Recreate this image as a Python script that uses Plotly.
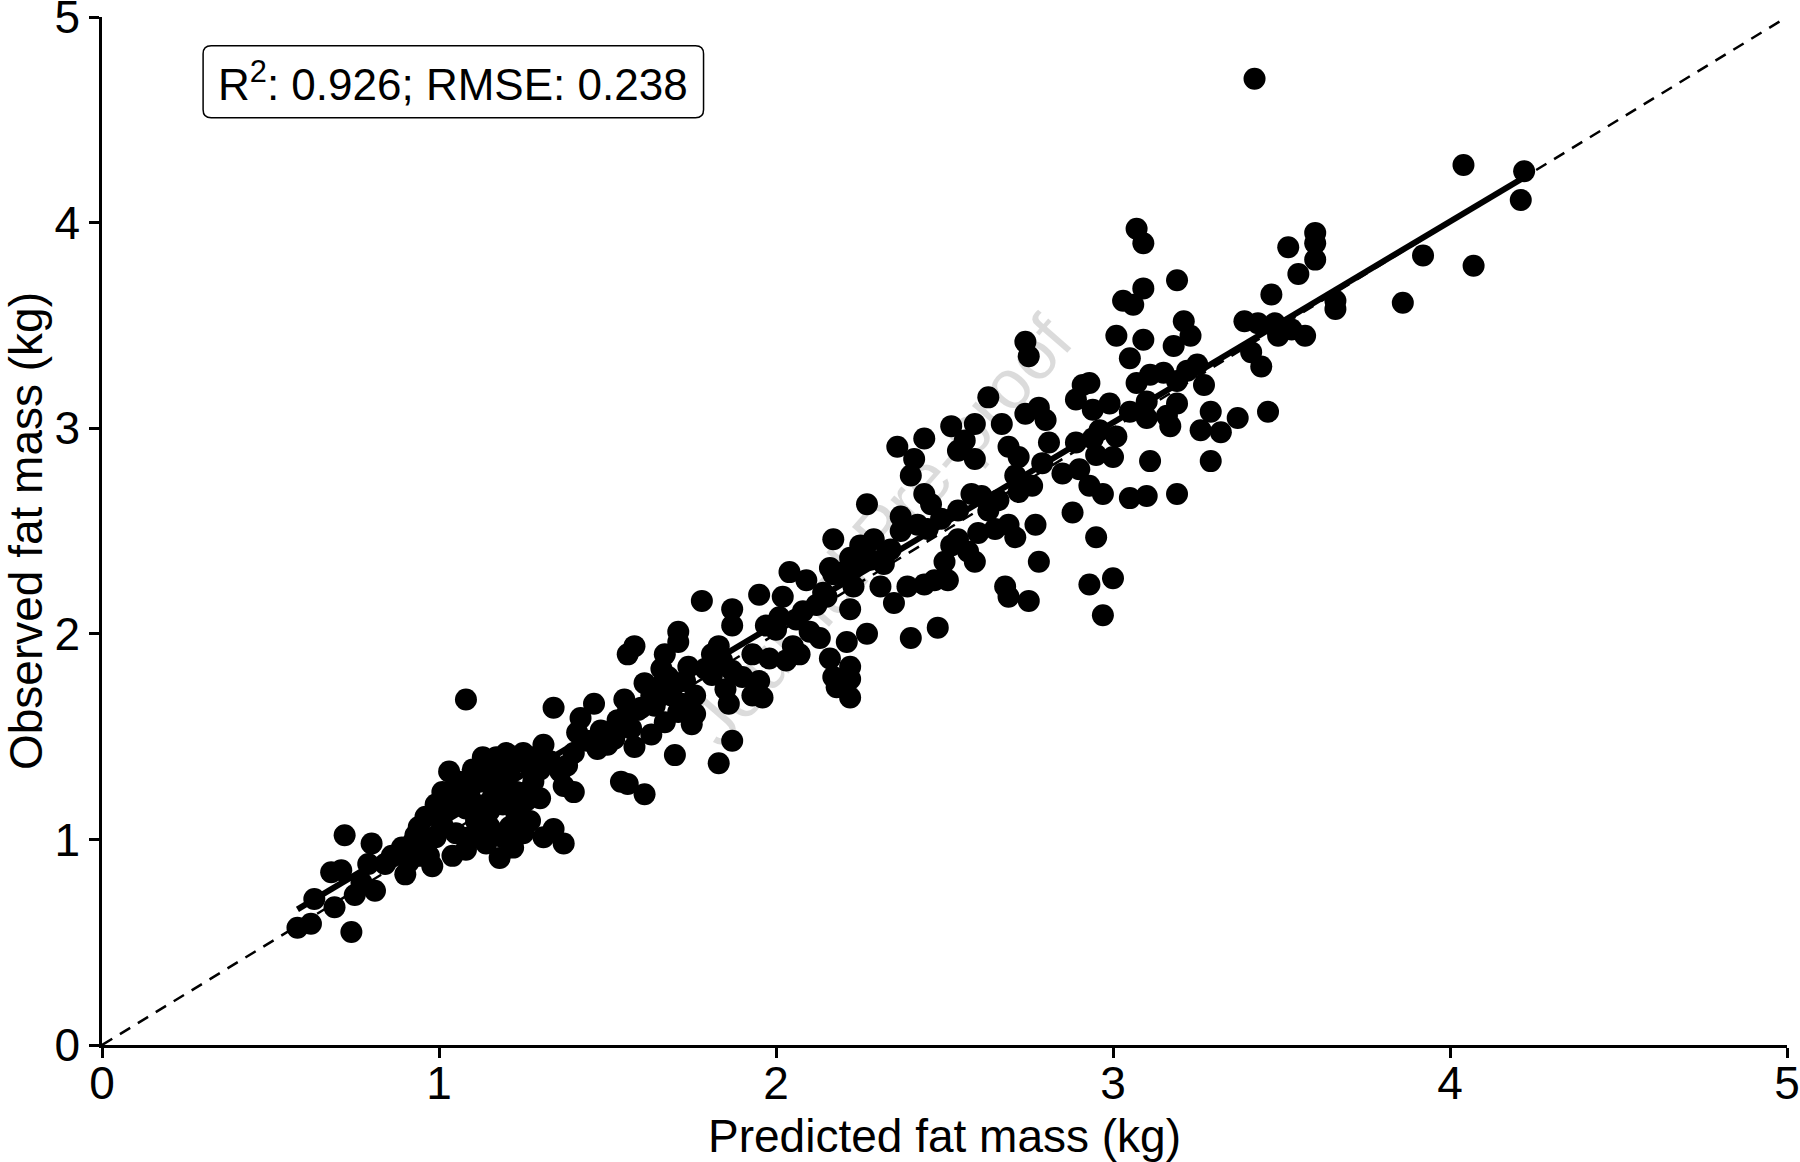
import plotly.graph_objects as go

# predicted vs observed fat mass (kg)
predicted = [
    3.42, 4.04, 4.22, 4.21, 4.07, 3.92, 3.86, 3.66, 3.66, 3.60,
    3.60, 3.52, 3.55, 3.60, 3.47, 3.39, 3.43, 3.48, 3.49, 3.53,
    3.57, 3.41, 3.44, 3.46, 3.37, 3.32, 3.29, 3.26, 3.29, 3.27,
    3.07, 3.09, 3.19, 3.09, 3.03, 3.06, 3.01, 3.09, 3.21, 3.23,
    3.18, 3.25, 3.22, 3.15, 3.05, 3.07, 3.11, 3.19, 3.10, 3.19,
    3.16, 3.17, 3.05, 3.10, 2.99, 2.93, 2.91, 2.89, 2.94, 2.96,
    3.01, 3.00, 2.95, 2.94, 2.89, 3.11, 3.19, 3.10, 3.05, 2.97,
    2.93, 2.88, 2.95, 2.93, 3.00, 2.97, 2.90, 2.85, 2.79, 2.81,
    2.80, 2.74, 2.78, 2.75, 2.74, 2.67, 2.69, 2.72, 2.71, 2.72,
    2.66, 2.76, 2.77, 2.78, 2.71, 2.69, 2.68, 2.69, 2.75, 2.63,
    2.59, 2.56, 2.52, 2.54, 2.59, 2.58, 2.61, 2.63, 2.65, 2.60,
    2.57, 2.59, 2.54, 2.52, 2.50, 2.47, 2.51, 2.48, 2.44, 2.46,
    2.49, 2.54, 2.44, 2.42, 2.40, 2.41, 2.44, 2.36, 2.37, 2.40,
    2.39, 2.35, 2.37, 2.33, 2.32, 2.31, 2.29, 2.27, 2.25, 2.22,
    2.23, 2.23, 2.27, 2.22, 2.17, 2.20, 2.17, 2.16, 2.15, 2.21,
    2.22, 2.22, 2.22, 2.18, 2.16, 2.17, 2.13, 2.10, 2.12, 2.09,
    2.04, 2.02, 2.06, 2.01, 1.95, 1.97, 2.05, 2.03, 2.07, 1.98,
    1.93, 1.95, 1.96, 1.90, 1.93, 1.87, 1.87, 1.83, 1.84, 1.81,
    1.87, 1.81, 1.85, 1.86, 1.87, 1.83, 1.78, 1.74, 1.76, 1.76,
    1.72, 1.71, 1.71, 1.67, 1.66, 1.68, 1.66, 1.69, 1.71, 1.75,
    1.70, 1.67, 1.64, 1.61, 1.63, 1.58, 1.56, 1.60, 1.55, 1.56,
    1.57, 1.63, 1.58, 1.61, 1.54, 1.56, 1.52, 1.50, 1.47, 1.46,
    1.42, 1.41, 1.44, 1.40, 1.38, 1.36, 1.33, 1.31, 1.34, 1.31,
    1.40, 1.37, 1.37, 1.34, 1.31, 1.30, 1.28, 1.30, 1.26, 1.25,
    1.26, 1.27, 1.22, 1.23, 1.20, 1.21, 1.17, 1.19, 1.18, 1.15,
    1.13, 1.12, 1.14, 1.11, 1.08, 1.09, 1.08, 1.06, 1.05, 1.03,
    1.01, 1.03, 1.04, 1.08, 1.01, 0.99, 0.97, 0.96, 0.94, 0.98,
    0.92, 0.91, 0.89, 0.90, 0.86, 0.84, 0.80, 0.79, 0.81, 0.77,
    0.72, 0.71, 0.68, 0.69, 0.74, 0.63, 0.62, 0.58, 0.75, 1.20,
    1.22, 1.10, 1.14, 1.17, 1.23, 1.06, 1.11, 1.15, 0.99, 0.96,
    0.94, 1.03, 1.21, 1.25, 1.28, 1.14, 1.09, 1.19, 1.00, 1.04,
    1.12, 1.16, 1.24, 1.18, 1.07, 1.13, 1.26, 0.93, 1.48, 1.53,
    1.59, 1.65, 1.73, 1.79, 2.00, 2.08, 2.14, 2.28, 2.34, 2.45,
]
observed = [
    4.70, 4.28, 4.25, 4.11, 3.79, 3.84, 3.61, 3.62, 3.58, 3.95,
    3.90, 3.88, 3.75, 3.82, 3.65, 3.52, 3.51, 3.51, 3.45, 3.48,
    3.45, 3.37, 3.30, 3.08, 3.05, 2.98, 2.84, 2.99, 3.08, 3.21,
    3.97, 3.90, 3.72, 3.68, 3.62, 3.60, 3.45, 3.43, 3.52, 3.45,
    3.40, 3.31, 3.28, 3.27, 3.34, 3.22, 3.26, 3.23, 3.13, 3.12,
    3.06, 3.01, 3.08, 3.05, 3.12, 3.22, 3.21, 3.14, 3.09, 2.99,
    2.96, 2.86, 2.87, 2.95, 2.93, 2.84, 2.68, 2.67, 2.66, 2.68,
    2.72, 2.59, 2.47, 2.24, 2.27, 2.09, 2.80, 2.78, 2.83, 2.93,
    3.04, 3.07, 3.10, 3.35, 3.42, 3.02, 2.91, 2.86, 2.77, 2.69,
    2.65, 2.72, 2.53, 2.35, 2.47, 2.53, 2.23, 2.18, 2.16, 3.15,
    3.02, 2.94, 3.01, 2.89, 2.85, 2.68, 2.67, 2.60, 2.51, 2.49,
    2.40, 2.35, 2.46, 2.43, 2.35, 2.26, 2.26, 2.03, 2.24, 2.63,
    2.56, 2.60, 2.68, 2.53, 2.77, 2.85, 2.95, 2.91, 2.57, 1.98,
    2.23, 2.15, 2.50, 2.40, 2.34, 2.23, 2.46, 2.63, 2.43, 2.37,
    2.32, 2.23, 2.00, 2.12, 2.46, 2.30, 2.29, 2.32, 2.18, 1.96,
    1.84, 1.78, 1.69, 1.74, 1.88, 1.79, 1.98, 2.01, 2.14, 2.26,
    2.30, 2.18, 2.07, 2.08, 2.19, 2.04, 1.94, 1.87, 1.90, 1.88,
    1.90, 1.77, 1.69, 1.79, 1.70, 2.12, 2.04, 1.94, 1.87, 1.90,
    1.82, 1.80, 1.73, 1.66, 1.48, 1.37, 2.16, 1.84, 1.70, 1.61,
    1.66, 2.01, 1.96, 1.90, 1.83, 1.79, 1.75, 1.70, 1.62, 1.56,
    1.41, 1.57, 1.65, 1.76, 1.70, 1.94, 1.90, 1.64, 1.68, 1.62,
    1.54, 1.51, 1.45, 1.22, 1.28, 1.27, 1.49, 1.46, 1.44, 1.66,
    1.59, 1.52, 1.48, 1.42, 1.36, 1.33, 1.38, 1.40, 1.64, 1.46,
    1.23, 1.26, 0.98, 1.05, 1.01, 1.20, 1.28, 1.34, 1.37, 1.42,
    1.23, 1.09, 0.96, 1.12, 1.23, 1.33, 1.40, 1.17, 0.91, 1.06,
    1.40, 1.28, 1.17, 1.09, 1.68, 1.23, 1.15, 1.28, 1.03, 1.33,
    1.23, 1.15, 0.92, 0.95, 1.07, 1.01, 0.92, 0.96, 0.92, 0.87,
    0.98, 0.89, 0.96, 0.83, 0.92, 0.88, 0.98, 0.88, 0.75, 0.79,
    1.02, 0.85, 0.84, 0.67, 0.55, 0.71, 0.59, 0.57, 0.73, 1.42,
    1.39, 1.34, 1.33, 1.27, 1.23, 1.20, 1.17, 1.14, 1.17, 1.11,
    1.06, 1.23, 1.06, 1.03, 1.40, 0.98, 1.01, 1.01, 1.12, 1.19,
    1.31, 1.21, 1.15, 1.36, 1.25, 1.03, 1.19, 1.02, 1.53, 1.58,
    1.63, 1.69, 1.77, 1.83, 2.02, 2.11, 2.20, 2.36, 2.41, 2.51,
]

# fitted regression line end points and identity line
fit_x = [0.58, 4.24]
fit_y = [0.66, 4.24]
identity = [0, 5]

r2, rmse = 0.926, 0.238

FONT = "Liberation Sans, Arial, sans-serif"

fig = go.Figure()
fig.add_trace(go.Scatter(x=identity, y=identity, mode="lines",
                         line=dict(color="black", width=2.5, dash="12px,9px"),
                         hoverinfo="skip"))
fig.add_trace(go.Scatter(x=predicted, y=observed, mode="markers",
                         marker=dict(color="black", size=22, line=dict(width=0)),
                         cliponaxis=False))
fig.add_trace(go.Scatter(x=fit_x, y=fit_y, mode="lines",
                         line=dict(color="black", width=6)))

# watermark
fig.add_annotation(x=2.31, y=2.50, xref="x", yref="y", showarrow=False,
                   text="Journal Pre-proof", textangle=-49,
                   xanchor="center", yanchor="middle",
                   font=dict(family=FONT, size=70, color="rgba(0,0,0,0.14)"))

# rounded box for the stats label (paper coords)
x0, x1, y0, y1 = 0.060, 0.357, 0.902, 0.972
rx, ry = 0.0048, 0.0078
path = (f"M {x0+rx},{y0} L {x1-rx},{y0} Q {x1},{y0} {x1},{y0+ry} "
        f"L {x1},{y1-ry} Q {x1},{y1} {x1-rx},{y1} L {x0+rx},{y1} "
        f"Q {x0},{y1} {x0},{y1-ry} L {x0},{y0+ry} Q {x0},{y0} {x0+rx},{y0} Z")
fig.add_shape(type="path", path=path, xref="paper", yref="paper",
              line=dict(color="black", width=1.5), fillcolor="white", layer="below")
fig.add_annotation(x=(x0 + x1) / 2, y=(y0 + y1) / 2, xref="paper", yref="paper",
                   xanchor="center", yanchor="middle", showarrow=False,
                   text=f"R<sup>2</sup>: {r2}; RMSE: {rmse}",
                   font=dict(family=FONT, size=44, color="black"))

axis_common = dict(range=[0, 5], dtick=1, showgrid=False, zeroline=False,
                   showline=True, linecolor="black", linewidth=2.5,
                   ticks="outside", ticklen=10, tickwidth=2.5, tickcolor="black",
                   automargin=False, ticklabeloverflow="allow",
                   tickfont=dict(family=FONT, size=46, color="black"))
fig.update_xaxes(**axis_common, ticklabelstandoff=-14,
                 title=dict(text="Predicted fat mass (kg)", standoff=24,
                            font=dict(family=FONT, size=46, color="black")))
fig.update_yaxes(**axis_common,
                 title=dict(text="Observed fat mass (kg)", standoff=8,
                            font=dict(family=FONT, size=46, color="black")))

fig.update_layout(width=1800, height=1162, showlegend=False,
                  plot_bgcolor="white", paper_bgcolor="white",
                  margin=dict(l=102, r=13, t=17, b=117))

# drop the default body margin so the figure sits at the page origin
fig.write_html("out.html", config={"displayModeBar": False},
               post_script="document.body.style.margin='0';")
